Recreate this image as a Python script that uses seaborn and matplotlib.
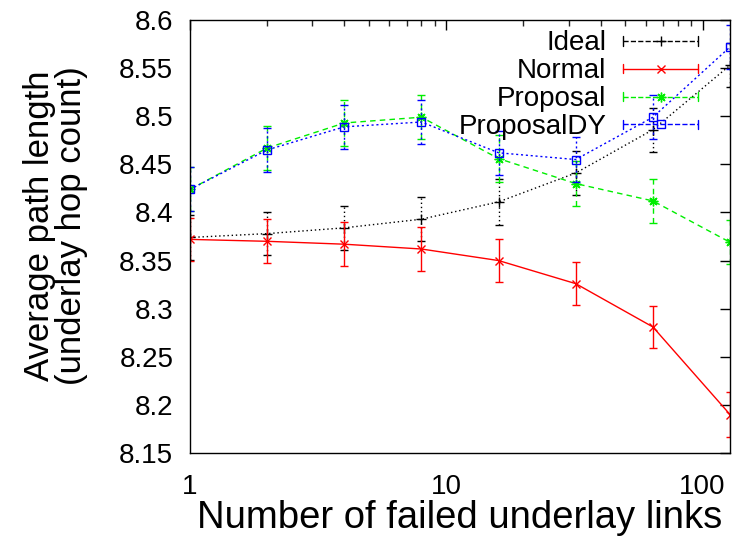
import matplotlib
matplotlib.use("Agg")
import matplotlib.pyplot as plt
import seaborn as sns
import pandas as pd
from matplotlib.lines import Line2D
from matplotlib.legend_handler import HandlerBase
from matplotlib.ticker import FixedLocator, FormatStrFormatter, LogLocator, NullFormatter

# Data
failed_links = [1, 2, 4, 8, 16, 32, 64, 128]
ideal = [8.374, 8.378, 8.384, 8.393, 8.411, 8.441, 8.486, 8.553]
normal = [8.372, 8.370, 8.367, 8.362, 8.350, 8.326, 8.281, 8.190]
proposal = [8.424, 8.467, 8.493, 8.499, 8.456, 8.430, 8.412, 8.369]
proposal_dy = [8.424, 8.465, 8.489, 8.494, 8.462, 8.455, 8.499, 8.572]
ideal_err = [0.023, 0.022, 0.023, 0.023, 0.024, 0.023, 0.023, 0.023]
normal_err = [0.022, 0.023, 0.023, 0.023, 0.022, 0.022, 0.022, 0.023]
proposal_err = [0.023, 0.023, 0.024, 0.023, 0.024, 0.023, 0.023, 0.023]
proposal_dy_err = [0.023, 0.023, 0.023, 0.023, 0.023, 0.023, 0.023, 0.023]

y_ticks = [8.15, 8.2, 8.25, 8.3, 8.35, 8.4, 8.45, 8.5, 8.55, 8.6]

sns.set_style("white")
plt.rcParams['font.family'] = ['Liberation Sans', 'DejaVu Sans']
plt.rcParams['text.color'] = 'black'
plt.rcParams['axes.labelcolor'] = 'black'

series = [
    ("Ideal", ideal, ideal_err, "black", (0, (1, 2)), "+", 7),
    ("Normal", normal, normal_err, "#ff0000", "-", "x", 6),
    ("Proposal", proposal, proposal_err, "#00ee00", (0, (4, 3)), (8, 2, 0), 7),
    ("ProposalDY", proposal_dy, proposal_dy_err, "#0000ff", (0, (1.5, 2)), "s", 6),
]

rows = []
for name, vals, errs, *_ in series:
    for x, v, e in zip(failed_links, vals, errs):
        rows.append({"links": x, "value": v, "err": e, "series": name})
df = pd.DataFrame(rows)

fig = plt.figure(figsize=(7.32, 5.44), dpi=100)
ax = fig.add_axes([0.2596, 0.1673, 0.7377, 0.7959])

handles = []
for name, vals, errs, color, ls, marker, ms in series:
    sub = df[df["series"] == name]
    sns.lineplot(data=sub, x="links", y="value", ax=ax, color=color, linestyle=ls,
                 linewidth=1, marker=marker, markersize=ms,
                 markerfacecolor="none", markeredgecolor=color, markeredgewidth=1,
                 errorbar=None, legend=False)
    eb = ax.errorbar(sub["links"], sub["value"], yerr=sub["err"], fmt="none",
                     ecolor=color, elinewidth=1, capsize=2.6, capthick=1)
    for coll in eb[2]:
        coll.set_linestyle(ls)
    handles.append(Line2D([], [], color=color, linestyle=ls, linewidth=1,
                          marker=marker, markersize=ms, markerfacecolor="none",
                          markeredgecolor=color, label=name))


class GnuKey(HandlerBase):
    # gnuplot-style key: line with end caps and the point in the middle
    def create_artists(self, legend, orig, xdescent, ydescent, width, height,
                       fontsize, trans):
        y = height / 2 - ydescent
        x0, x1 = -xdescent, -xdescent + width
        color = orig.get_color()
        line = Line2D([x0, x1], [y, y], color=color, linestyle=orig.get_linestyle(),
                      linewidth=1, transform=trans)
        cap_h = height * 0.25
        c0 = Line2D([x0, x0], [y - cap_h, y + cap_h], color=color, lw=1, transform=trans)
        c1 = Line2D([x1, x1], [y - cap_h, y + cap_h], color=color, lw=1, transform=trans)
        mk = Line2D([(x0 + x1) / 2], [y], color=color, linestyle="none",
                    marker=orig.get_marker(), markersize=orig.get_markersize(),
                    markerfacecolor="none", markeredgecolor=color, transform=trans)
        return [line, c0, c1, mk]


ax.legend(handles=handles, handler_map={Line2D: GnuKey()}, loc="upper right",
          bbox_to_anchor=(0.977, 1.021), frameon=False, markerfirst=False,
          fontsize=20, handlelength=2.7, handletextpad=0.6, labelspacing=0.07,
          borderaxespad=0.3)

ax.set_xscale("log")
ax.set_xlim(1, 128)
ax.set_ylim(8.15, 8.6)
ax.yaxis.set_major_locator(FixedLocator(y_ticks))
ax.yaxis.set_major_formatter(FormatStrFormatter("%g"))
ax.xaxis.set_major_locator(FixedLocator([1, 10, 100]))
ax.xaxis.set_major_formatter(FormatStrFormatter("%g"))
ax.xaxis.set_minor_locator(LogLocator(base=10, subs=range(2, 10)))
ax.xaxis.set_minor_formatter(NullFormatter())

ax.tick_params(axis="both", which="major", direction="in", length=7, width=1,
               top=True, right=True, labelsize=20, colors="black")
ax.tick_params(axis="y", which="major", pad=12)
ax.tick_params(axis="x", which="major", pad=15)
ax.tick_params(axis="both", which="minor", direction="in", length=4, width=1,
               top=True, right=True)
for s in ax.spines.values():
    s.set_color("black")
    s.set_linewidth(1)

ax.set_xlabel("Number of failed underlay links", fontsize=27.5, labelpad=0)
ax.set_ylabel("Average path length\n(underlay hop count)", fontsize=25,
              linespacing=0.95)
ax.yaxis.set_label_coords(-0.189, 0.524)

fig.savefig("out.png", dpi=100)
